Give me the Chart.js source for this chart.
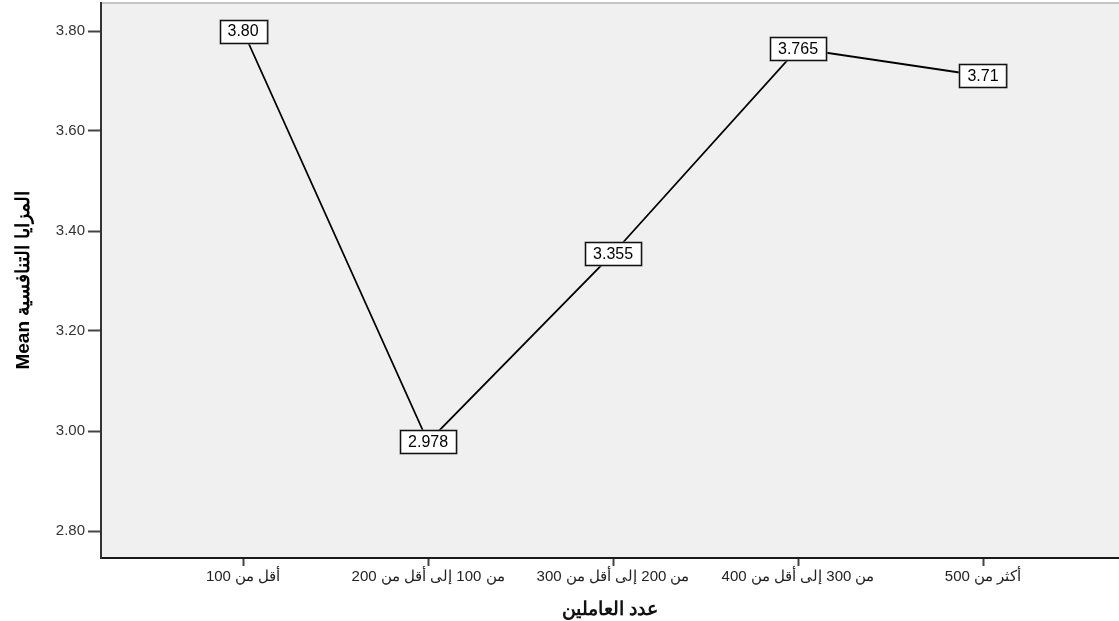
<!DOCTYPE html>
<html>
<head>
<meta charset="utf-8">
<script src="https://cdn.jsdelivr.net/npm/chart.js@4"></script>
<style>
  html, body { margin: 0; padding: 0; background: #fff; }
  #wrap { width: 1119px; height: 621px; position: relative; }
</style>
</head>
<body>
<div id="wrap"><canvas id="chart"></canvas></div>
<script>
const categories = [
    "أقل من 100",
    "من 100 إلى أقل من 200",
    "من 200 إلى أقل من 300",
    "من 300 إلى أقل من 400",
    "أكثر من 500",
];
const means = [3.80, 2.978, 3.355, 3.765, 3.71];
const meanLabels = ["3.80", "2.978", "3.355", "3.765", "3.71"];
const yTicks = [2.80, 3.00, 3.20, 3.40, 3.60, 3.80];

const FONT = "'Liberation Sans', Arial, sans-serif";

// plot background + top border, like the SPSS frame
const plotFrame = {
    id: "plotFrame",
    beforeDraw(chart) {
        const { ctx, chartArea: a } = chart;
        ctx.save();
        ctx.fillStyle = "#f0f0f0";
        ctx.fillRect(a.left, a.top, a.right - a.left, a.bottom - a.top);
        ctx.strokeStyle = "#c4c4c4";
        ctx.lineWidth = 2;
        ctx.beginPath();
        ctx.moveTo(a.left, a.top);
        ctx.lineTo(a.right, a.top);
        ctx.stroke();
        ctx.restore();
    },
};

// boxed value labels drawn over the line
const valueBoxes = {
    id: "valueBoxes",
    afterDatasetsDraw(chart) {
        const { ctx } = chart;
        const meta = chart.getDatasetMeta(0);
        ctx.save();
        ctx.font = "16px " + FONT;
        ctx.textAlign = "center";
        ctx.textBaseline = "middle";
        meta.data.forEach((pt, i) => {
            const text = meanLabels[i];
            const w = ctx.measureText(text).width + 16;
            const h = 23;
            const x = Math.round(pt.x - w / 2) + 0.5;
            const y = Math.round(pt.y - h / 2) + 0.5;
            ctx.fillStyle = "#ffffff";
            ctx.fillRect(x, y, w, h);
            ctx.strokeStyle = "#777";
            ctx.lineWidth = 2;
            ctx.strokeRect(x, y, w, h);
            ctx.strokeStyle = "#111";
            ctx.lineWidth = 1;
            ctx.strokeRect(x, y, w, h);
            ctx.fillStyle = "#000";
            ctx.fillText(text, pt.x, pt.y + 1);
        });
        ctx.restore();
    },
};

new Chart(document.getElementById("chart"), {
    type: "line",
    data: {
        datasets: [{
            data: means.map((v, i) => ({ x: i, y: v })),
            borderColor: "#000",
            borderWidth: 1.8,
            tension: 0,
            pointRadius: 0,
            fill: false,
        }],
    },
    options: {
        responsive: true,
        maintainAspectRatio: false,
        animation: false,
        layout: { padding: { top: 3, right: 0, left: 0, bottom: 0 } },
        plugins: {
            legend: { display: false },
            tooltip: { enabled: false },
        },
        scales: {
            x: {
                type: "linear",
                min: -0.768,
                max: 4.735,
                afterBuildTicks: (scale) => {
                    scale.ticks = categories.map((c, i) => ({ value: i }));
                },
                afterFit: (scale) => {
                    scale.height = 63;
                    scale.paddingLeft = 0;
                    scale.paddingRight = 0;
                },
                ticks: {
                    autoSkip: false,
                    maxRotation: 0,
                    minRotation: 0,
                    padding: 2,
                    color: "#222",
                    font: { family: FONT, size: 15 },
                    callback: (v) => categories[v] ?? "",
                },
                grid: {
                    drawOnChartArea: false,
                    drawTicks: true,
                    tickLength: 8,
                    tickColor: "#444",
                    tickWidth: 2,
                },
                border: { display: true, color: "#1a1a1a", width: 2 },
                title: {
                    display: true,
                    text: "عدد العاملين",
                    color: "#111",
                    font: { family: FONT, size: 19, weight: "bold" },
                    padding: { top: 4, bottom: 0 },
                },
            },
            y: {
                min: 2.746,
                max: 3.856,
                afterBuildTicks: (scale) => {
                    scale.ticks = yTicks.map((v) => ({ value: v }));
                },
                afterFit: (scale) => {
                    scale.width = 101;
                    scale.paddingTop = 0;
                    scale.paddingBottom = 0;
                },
                ticks: {
                    padding: 3,
                    color: "#333",
                    font: { family: FONT, size: 15 },
                    callback: (v) => v.toFixed(2),
                },
                grid: {
                    drawOnChartArea: false,
                    drawTicks: true,
                    tickLength: 13,
                    tickColor: "#444",
                    tickWidth: 2,
                },
                border: { display: true, color: "#333", width: 2 },
                title: {
                    display: true,
                    text: "Mean المزايا التنافسية",
                    color: "#000",
                    font: { family: FONT, size: 19, weight: "bold" },
                    padding: { top: 12, bottom: 8 },
                },
            },
        },
    },
    plugins: [plotFrame, valueBoxes],
});
</script>
</body>
</html>
